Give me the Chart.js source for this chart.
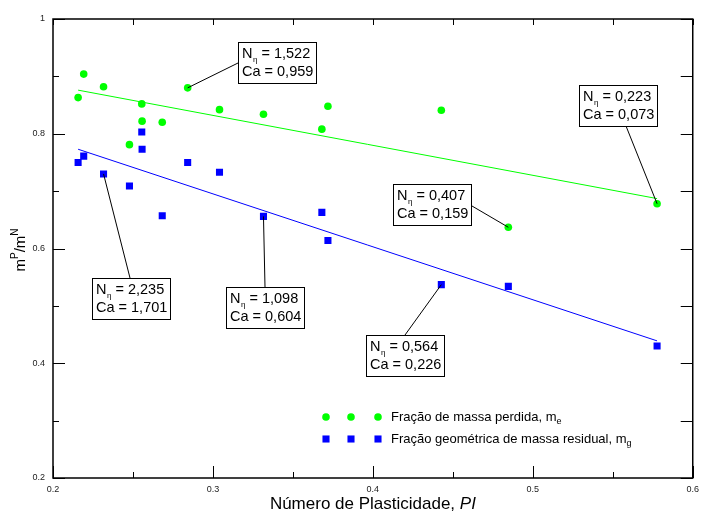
<!DOCTYPE html>
<html lang="pt">
<head>
<meta charset="UTF-8">
<title>Frações de massa x Número de Plasticidade</title>
<style>
  html, body { margin: 0; padding: 0; background: #fff; }
  #wrap { width: 705px; height: 514px; position: relative; }
</style>
</head>
<body>
<div id="wrap"><canvas id="grafico"></canvas></div>

<script src="https://cdn.jsdelivr.net/npm/chart.js"></script>
<script>
// valores
const indicePI = [0.2157, 0.2192, 0.2316, 0.2478, 0.2555, 0.2557, 0.2683, 0.2842, 0.3041, 0.3316, 0.3681, 0.3719, 0.4428, 0.4847, 0.5777];
const massaPerdida = [0.863, 0.904, 0.882, 0.781, 0.852, 0.822, 0.820, 0.880, 0.842, 0.834, 0.808, 0.848, 0.841, 0.637, 0.678];
const massaResidual = [0.750, 0.761, 0.730, 0.709, 0.803, 0.773, 0.657, 0.750, 0.733, 0.656, 0.663, 0.614, 0.537, 0.534, 0.430];

// retas de ajuste (extremos)
const ajusteX = [0.2157, 0.5777];
const ajustePerdida = [0.876, 0.687];
const ajusteResidual = [0.773, 0.439];

const rotulosX = [0.2, 0.3, 0.4, 0.5, 0.6];
const rotulosY = [0.2, 0.4, 0.6, 0.8, 1];

const legendas = ['Fração de massa perdida, m', 'Fração geométrica de massa residual, m'];
const legendasSub = ['e', 'g'];

// caixas de anotação
const notaN = ['1,522', '0,223', '0,407', '2,235', '1,098', '0,564'];
const notaCa = ['0,959', '0,073', '0,159', '1,701', '0,604', '0,226'];
const notaSerie = [0, 0, 0, 1, 1, 1];
const notaPonto = [7, 14, 13, 2, 9, 12];

// posição das caixas na tela (px) e ponto de saída da linha
const caixas = [
  { x: 238, y: 42,  ax: 238, ay: 63 },
  { x: 579, y: 85,  ax: 626, ay: 126 },
  { x: 393, y: 184, ax: 472, ay: 206 },
  { x: 92,  y: 278, ax: 130, ay: 278 },
  { x: 226, y: 287, ax: 265, ay: 287 },
  { x: 366, y: 335, ax: 405, ay: 335 }
];

const VERDE = '#00ff00';
const AZUL = '#0000ff';
const FONTE = '"Liberation Sans", Arial, sans-serif';

function pares(xs, ys) {
  return xs.map((x, i) => ({ x: x, y: ys[i] }));
}

function ehRotulo(v, lista) {
  return lista.some(r => Math.abs(r - v) < 1e-6);
}

function desenhaMarcador(ctx, estilo, cor, x, y, r) {
  ctx.fillStyle = cor;
  if (estilo === 'rect') {
    const s = r * Math.SQRT1_2;
    ctx.fillRect(x - s, y - s, 2 * s, 2 * s);
  } else {
    ctx.beginPath();
    ctx.arc(x, y, r, 0, Math.PI * 2);
    ctx.fill();
  }
}

const extras = {
  id: 'extras',
  afterDraw(chart) {
    const ctx = chart.ctx;
    const a = chart.chartArea;
    const sx = chart.scales.x, sy = chart.scales.y;
    ctx.save();

    // moldura
    ctx.strokeStyle = '#000';
    ctx.lineWidth = 1.5;
    ctx.strokeRect(a.left, a.top, a.right - a.left, a.bottom - a.top);

    // marcas para dentro
    ctx.lineWidth = 1;
    ctx.beginPath();
    sx.ticks.forEach(t => {
      const px = Math.round(sx.getPixelForValue(t.value)) + 0.5;
      const len = ehRotulo(t.value, rotulosX) ? 12 : 6;
      ctx.moveTo(px, a.bottom); ctx.lineTo(px, a.bottom - len);
      ctx.moveTo(px, a.top); ctx.lineTo(px, a.top + 6);
    });
    sy.ticks.forEach(t => {
      const py = Math.round(sy.getPixelForValue(t.value)) + 0.5;
      const len = ehRotulo(t.value, rotulosY) ? 12 : 6;
      ctx.moveTo(a.left, py); ctx.lineTo(a.left + len, py);
      ctx.moveTo(a.right, py); ctx.lineTo(a.right - 12, py);
    });
    ctx.stroke();

    // anotações
    ctx.textBaseline = 'middle';
    ctx.textAlign = 'left';
    caixas.forEach((c, i) => {
      const ds = chart.data.datasets[notaSerie[i]];
      const p = ds.data[notaPonto[i]];
      const px = sx.getPixelForValue(p.x), py = sy.getPixelForValue(p.y);
      ctx.strokeStyle = '#000';
      ctx.lineWidth = 1;
      ctx.beginPath();
      ctx.moveTo(c.ax, c.ay); ctx.lineTo(px, py);
      ctx.stroke();

      ctx.fillStyle = '#fff';
      ctx.fillRect(c.x, c.y, 78, 41);
      ctx.strokeRect(c.x + 0.5, c.y + 0.5, 78, 41);

      ctx.fillStyle = '#000';
      let tx = c.x + 4;
      ctx.font = '14.5px ' + FONTE;
      ctx.fillText('N', tx, c.y + 12);
      tx += ctx.measureText('N').width + 0.5;
      ctx.font = '8px ' + FONTE;
      ctx.fillText('η', tx, c.y + 18);
      tx += ctx.measureText('η').width;
      ctx.font = '14.5px ' + FONTE;
      ctx.fillText(' = ' + notaN[i], tx, c.y + 12);
      ctx.fillText('Ca = ' + notaCa[i], c.x + 4, c.y + 30);
    });

    // legenda
    const linhas = [417, 439];
    chart.data.datasets.slice(0, 2).forEach((ds, i) => {
      [326, 351, 378].forEach(mx => desenhaMarcador(ctx, ds.pointStyle, ds.backgroundColor, mx, linhas[i], ds.pointRadius));
      ctx.fillStyle = '#000';
      ctx.font = '13px ' + FONTE;
      ctx.fillText(legendas[i], 391, linhas[i]);
      const w = ctx.measureText(legendas[i]).width;
      ctx.font = '9px ' + FONTE;
      ctx.fillText(legendasSub[i], 391 + w, linhas[i] + 5);
    });

    // título do eixo x
    ctx.font = '17px ' + FONTE;
    const t1 = 'Número de Plasticidade, ';
    const w1 = ctx.measureText(t1).width;
    ctx.font = 'italic 17px ' + FONTE;
    const w2 = ctx.measureText('PI').width;
    const x0 = (a.left + a.right) / 2 - (w1 + w2) / 2;
    ctx.font = '17px ' + FONTE;
    ctx.fillText(t1, x0, 504);
    ctx.font = 'italic 17px ' + FONTE;
    ctx.fillText('PI', x0 + w1, 504);

    // título do eixo y
    ctx.translate(21, 250);
    ctx.rotate(-Math.PI / 2);
    const partes = [['m', 15, 0], ['P', 10, -6], ['/m', 15, 0], ['N', 10, -6]];
    let total = 0;
    partes.forEach(p => { ctx.font = p[1] + 'px ' + FONTE; total += ctx.measureText(p[0]).width; });
    let cx = -total / 2;
    partes.forEach(p => {
      ctx.font = p[1] + 'px ' + FONTE;
      ctx.fillText(p[0], cx, p[2]);
      cx += ctx.measureText(p[0]).width;
    });

    ctx.restore();
  }
};

const ctx = document.getElementById('grafico').getContext('2d');
const grafico = new Chart(ctx, {
  type: 'scatter',
  data: {
    datasets: [
      {
        label: 'Fração de massa perdida',
        data: pares(indicePI, massaPerdida),
        pointStyle: 'circle',
        pointRadius: 3.8,
        backgroundColor: VERDE,
        borderWidth: 0,
        order: 1
      },
      {
        label: 'Fração geométrica de massa residual',
        data: pares(indicePI, massaResidual),
        pointStyle: 'rect',
        pointRadius: 5,
        backgroundColor: AZUL,
        borderWidth: 0,
        order: 1
      },
      {
        label: 'ajuste perdida',
        data: pares(ajusteX, ajustePerdida),
        showLine: true,
        pointRadius: 0,
        borderColor: VERDE,
        borderWidth: 1,
        order: 2
      },
      {
        label: 'ajuste residual',
        data: pares(ajusteX, ajusteResidual),
        showLine: true,
        pointRadius: 0,
        borderColor: AZUL,
        borderWidth: 1,
        order: 2
      }
    ]
  },
  options: {
    responsive: true,
    maintainAspectRatio: false,
    animation: false,
    layout: { padding: { top: 19, right: 6, left: 0, bottom: 0 } },
    plugins: {
      legend: { display: false },
      tooltip: { enabled: false }
    },
    scales: {
      x: {
        type: 'linear',
        min: 0.2, max: 0.6,
        grid: { display: false, drawTicks: false },
        border: { display: false },
        ticks: {
          stepSize: 0.05,
          autoSkip: false,
          maxRotation: 0,
          padding: 6,
          color: '#222',
          font: { family: FONTE, size: 9 },
          callback: v => ehRotulo(v, rotulosX) ? String(Math.round(v * 10) / 10) : ''
        },
        afterFit: s => { s.height = 36; }
      },
      y: {
        type: 'linear',
        min: 0.2, max: 1,
        grid: { display: false, drawTicks: false },
        border: { display: false },
        ticks: {
          stepSize: 0.1,
          autoSkip: false,
          padding: 8,
          color: '#222',
          font: { family: FONTE, size: 9 },
          callback: v => ehRotulo(v, rotulosY) ? String(Math.round(v * 10) / 10) : ''
        },
        afterFit: s => { s.width = 53; }
      }
    }
  },
  plugins: [extras]
});
</script>
</body>
</html>
